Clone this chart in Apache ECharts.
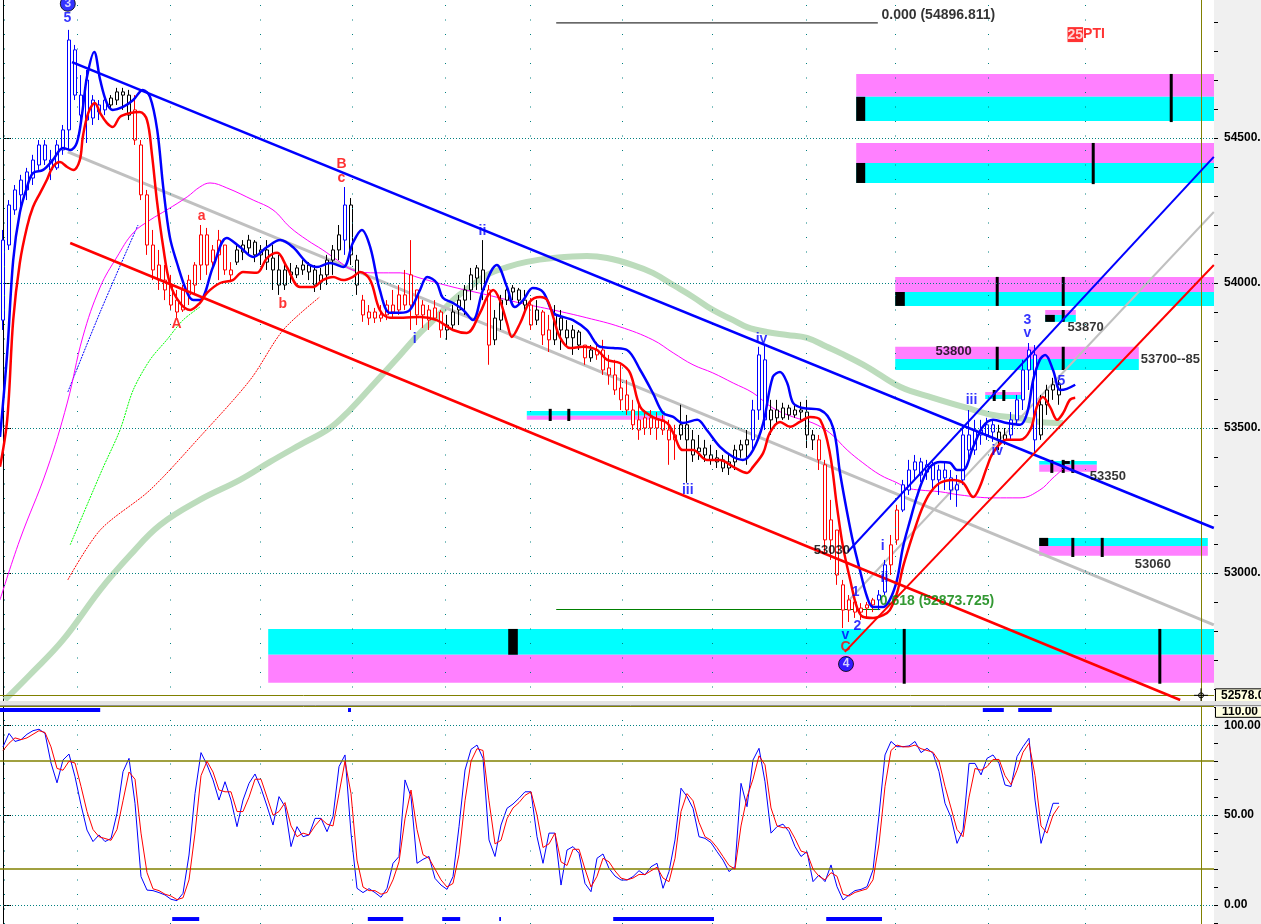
<!DOCTYPE html>
<html><head><meta charset="utf-8">
<script src="https://cdn.jsdelivr.net/npm/echarts@6/dist/echarts.min.js"></script>
<style>html,body{margin:0;padding:0;background:#f0f0f0}#c{width:1261px;height:924px}</style>
</head><body><div id="c"></div><script>
// ---------- price bars (bar index = position in arrays) ----------
const opens = [53872,54131,54252,54304,54321,54362,54407,54476,54424,54397,54459,54528,54804,54648,54562,54569,54614,54597,54614,54631,54659,54648,54597,54476,54304,54131,54062,54010,53993,53941,53907,53959,53993,54062,54166,54072,54097,54131,54045,54072,54107,54121,54141,54097,54114,54086,54045,53993,54038,54028,54045,54062,54045,54003,54028,54079,54114,54148,54269,54079,53941,53900,53879,53890,53890,53924,53907,53959,53924,53976,53890,53907,53879,53900,53838,53855,53907,53941,53976,54017,54045,53976,53804,53872,53941,53969,53976,53941,53924,53872,53900,53838,53804,53879,53838,53811,53831,53786,53742,53769,53769,53707,53683,53638,53614,53562,53528,53500,53535,53500,53528,53493,53459,53476,53511,53459,53418,53431,53407,53397,53390,53362,53383,53424,53442,53459,53562,53735,53528,53562,53535,53569,53545,53562,53555,53476,53459,53373,53114,53148,52959,52872,52900,52865,52879,52890,52907,52934,53028,53114,53217,53286,53355,53383,53348,53373,53321,53355,53328,53286,53321,53476,53424,53493,53476,53511,53486,53459,53476,53528,53597,53700,53752,53476,53580,53631,53649];
const closes = [54148,54269,54321,54355,54383,54424,54476,54424,54390,54476,54528,54838,54648,54579,54700,54631,54590,54631,54638,54659,54648,54579,54493,54304,54131,54045,54010,53976,53924,53900,53976,54010,54062,54166,54062,54114,54148,54045,54028,54114,54131,54148,54097,54114,54072,54045,53993,54045,54028,54052,54062,54038,53993,54028,54079,54114,54166,54269,54097,53993,53890,53879,53900,53879,53924,53900,53959,53924,54028,53890,53924,53872,53914,53838,53855,53900,53941,53976,54028,54052,53976,53786,53879,53941,53976,53983,53941,53924,53855,53907,53821,53804,53890,53838,53811,53838,53786,53742,53769,53752,53700,53683,53631,53597,53562,53511,53493,53535,53500,53528,53493,53459,53476,53511,53459,53407,53431,53407,53390,53383,53362,53383,53424,53442,53459,53562,53752,53528,53562,53535,53569,53545,53562,53555,53476,53459,53390,53114,53183,52993,52872,52907,52865,52879,52890,52907,52924,53028,53097,53217,53304,53355,53383,53338,53373,53321,53355,53328,53286,53304,53476,53424,53493,53476,53511,53486,53459,53476,53528,53597,53700,53769,53459,53580,53631,53649,53614];
const lows = [53838,54114,54235,54252,54286,54338,54390,54407,54355,54390,54442,54459,54631,54545,54483,54545,54562,54579,54597,54614,54597,54562,54476,54286,54097,54010,53976,53941,53907,53879,53900,53924,53959,54010,54028,54052,54010,54028,54003,54062,54079,54097,54072,54062,54045,53976,53959,53976,54000,54017,54028,54010,53969,53976,53993,54028,54079,54097,54062,53959,53866,53855,53862,53866,53872,53879,53890,53907,53838,53855,53845,53838,53872,53811,53804,53838,53855,53890,53941,53976,53941,53718,53786,53838,53924,53941,53924,53907,53838,53855,53786,53762,53786,53769,53786,53752,53769,53718,53728,53735,53683,53649,53614,53562,53545,53493,53459,53476,53476,53459,53476,53373,53390,53459,53311,53383,53390,53383,53373,53362,53348,53338,53355,53397,53373,53424,53528,53493,53476,53511,53528,53528,53535,53528,53431,53424,53355,53062,53045,52959,52810,52831,52845,52838,52848,52865,52872,52924,52993,53097,53210,53269,53321,53314,53321,53286,53269,53286,53252,53228,53304,53390,53407,53442,53459,53452,53424,53442,53459,53511,53562,53631,53407,53459,53545,53597,53580];
const highs = [54183,54286,54338,54373,54397,54442,54493,54493,54459,54493,54545,54873,54821,54717,54735,54648,54631,54648,54648,54673,54673,54666,54648,54493,54321,54183,54114,54062,54028,53976,53993,54028,54072,54200,54190,54131,54183,54131,54072,54131,54148,54166,54148,54131,54148,54131,54097,54072,54069,54062,54079,54072,54062,54052,54097,54131,54200,54331,54293,54097,53959,53924,53914,53924,53941,53976,53993,54045,54148,53976,53941,53924,53941,53907,53890,53924,53959,53993,54052,54062,54148,53993,53907,53959,54000,53993,53983,53976,53948,53941,53907,53890,53924,53907,53872,53855,53838,53786,53786,53797,53804,53752,53735,53718,53666,53597,53580,53562,53562,53555,53545,53528,53511,53580,53545,53493,53476,53459,53442,53424,53407,53407,53442,53459,53493,53597,53780,53786,53597,53597,53587,53580,53580,53590,53597,53493,53476,53390,53252,53148,52976,52924,52907,52896,52900,52914,52941,53045,53131,53235,53321,53390,53407,53397,53390,53383,53373,53383,53355,53338,53511,53562,53528,53528,53535,53528,53511,53500,53555,53614,53735,53793,53786,53614,53649,53673,53666];
// trend state of each bar: 1 = up (blue), -1 = down (red), 0 = neutral (black)
const trend = [1,1,1,1,1,1,1,1,1,1,1,1,1,1,1,1,1,1,0,0,0,0,-1,-1,-1,-1,-1,-1,-1,-1,-1,-1,-1,-1,-1,-1,-1,-1,-1,0,0,0,0,0,0,0,0,0,0,0,0,0,0,0,0,0,0,1,0,0,-1,-1,-1,-1,-1,-1,-1,-1,-1,-1,-1,-1,-1,-1,0,0,0,0,0,0,0,-1,0,0,0,0,0,0,-1,0,-1,-1,0,0,0,0,0,-1,0,-1,-1,-1,-1,-1,-1,-1,-1,-1,-1,-1,-1,-1,-1,0,0,0,0,0,0,0,0,0,0,0,0,1,1,1,0,0,0,0,0,0,0,0,-1,-1,-1,-1,-1,-1,-1,-1,-1,-1,1,1,-1,-1,1,1,1,1,1,1,1,1,1,1,1,1,1,1,1,1,0,0,1,1,1,1,1,0,0,0,0];

// ---------- indicator lines, [bar, price] ----------
const blueMA = [[-0.5,53469],[0.7,53759],[1.7,54079],[2.8,54242],[4,54331],[5,54379],[6.7,54390],[8.3,54424],[10,54466],[11.2,54459],[12.3,54483],[13.2,54586],[14,54711],[15.2,54797],[16.2,54700],[17.3,54621],[18.3,54597],[20,54607],[21.7,54631],[23.3,54666],[24.5,54642],[25.7,54528],[26.7,54331],[27.8,54159],[29,54069],[30.7,53966],[31.7,53941],[32.8,53941],[35,54055],[37.3,54155],[39.5,54124],[41.7,54090],[44,54124],[46.2,54148],[48.3,54124],[50.7,54069],[52.3,54055],[54.5,54069],[56.7,54055],[58.3,54138],[59.8,54183],[61.2,54124],[62.8,53976],[64.5,53897],[66.2,53897],[67.8,53907],[69.5,53976],[70.7,54021],[72.3,54000],[73.3,53949],[75,53931],[76.7,53907],[78.3,53872],[80,53976],[82.3,54062],[84,53986],[85.3,53917],[86.7,53941],[88.3,53983],[90,53969],[91.7,53897],[93.3,53883],[95,53872],[97.3,53838],[99.5,53780],[101.7,53776],[104,53769],[106.2,53700],[108.3,53621],[110,53552],[111.7,53538],[113.3,53517],[115.7,53528],[117.3,53493],[119.5,53435],[121.7,53400],[123.3,53390],[125,53424],[126.7,53517],[128.3,53676],[129.5,53693],[130.7,53655],[131.7,53586],[133.3,53569],[136.2,53562],[138.3,53504],[139.5,53345],[140.7,53207],[141.7,53104],[142.8,53011],[144,52918],[145,52883],[146.7,52883],[147.8,52907],[149,52976],[150,53090],[151.2,53183],[152.3,53262],[153.3,53321],[154.5,53366],[156.2,53383],[157.8,53380],[159,53355],[160,53355],[161.7,53435],[163.3,53504],[165,53528],[167.3,53517],[169.5,53511],[170.7,53552],[171.7,53666],[172.8,53735],[173.7,53752],[175,53700],[176.2,53631],[177.3,53635],[178.7,53649]];
const redMA = [[-0.5,53366],[0.7,53528],[1.7,53872],[2.8,54069],[4,54193],[5,54262],[6.2,54311],[7.3,54355],[8.3,54400],[9.5,54417],[10.7,54400],[11.7,54390],[12.8,54424],[13.3,54504],[14.2,54586],[15.3,54621],[16.2,54586],[17.3,54552],[18.3,54538],[19.5,54573],[21.2,54586],[22.8,54590],[24,54562],[24.8,54448],[25.7,54276],[26.7,54124],[27.8,54000],[29.5,53931],[31.2,53907],[32.8,53931],[34,53966],[36.2,54000],[38.3,54010],[40,54038],[42.3,54035],[44,54086],[45.7,54104],[47.3,54055],[49.5,53986],[51.7,53986],[53.3,54010],[55,54021],[56.7,54010],[58.3,54021],[59.5,54038],[61.2,54010],[62.8,53907],[64.5,53880],[66.7,53880],[69.5,53883],[72.3,53872],[75,53838],[77.3,53828],[79.5,53897],[80.7,53952],[81.7,53976],[82.8,53941],[84,53862],[84.8,53814],[86.2,53862],[87.8,53935],[89.5,53952],[90.7,53941],[91.7,53883],[92.8,53814],[94.5,53776],[96.7,53780],[99,53769],[100.7,53735],[102.8,53724],[104.5,53690],[106.2,53573],[108.3,53538],[110.7,53517],[111.7,53483],[113.3,53424],[115,53424],[117.3,53390],[119.5,53390],[121.7,53366],[124,53345],[125,53366],[126.7,53414],[127.8,53483],[129.5,53521],[131.2,53504],[132.8,53521],[134.5,53538],[136.2,53528],[137.8,53414],[139,53228],[140,53090],[141.2,52976],[142.3,52883],[143.3,52849],[145,52845],[146.7,52855],[147.8,52872],[149,52931],[150,53021],[151.2,53104],[152.3,53173],[153.3,53228],[154.5,53276],[156.2,53311],[158.3,53321],[160,53311],[161.7,53262],[162.8,53297],[164,53366],[165,53414],[167.3,53459],[169.5,53459],[171.2,53493],[172.3,53573],[173.3,53607],[174.5,53573],[175.7,53528],[176.7,53552],[177.8,53597],[178.7,53604]];
const magentaMA = [[-0.5,52907],[2.8,53114],[7.3,53355],[10.7,53586],[13.3,53814],[16.2,53986],[19,54090],[21.7,54173],[24.5,54217],[27.3,54252],[30.7,54297],[32.8,54331],[34.5,54345],[37.3,54328],[41.7,54286],[45,54252],[47.8,54193],[50.7,54148],[53.3,54114],[55.7,54079],[58.3,54045],[62.3,54035],[66.2,54035],[69.5,54017],[75,53986],[80.7,53959],[86.2,53931],[91.7,53907],[97.3,53880],[102.8,53849],[108.3,53804],[111.7,53759],[115,53718],[118.3,53690],[121.7,53655],[125,53621],[128.3,53569],[131.7,53538],[135,53517],[137.8,53483],[140.7,53424],[143.3,53380],[146.2,53338],[149,53311],[150.7,53293],[152.8,53286],[156.2,53280],[159.5,53269],[165,53259],[169.5,53259],[172.8,53286],[175,53328],[176.7,53359]];
const greenMA = [[0.3,52562],[4.5,52649],[10,52769],[16.2,52942],[21.2,53062],[26.2,53166],[32.8,53252],[39.5,53321],[44.5,53383],[49.5,53442],[54.5,53500],[57.8,53562],[61.2,53638],[66.2,53752],[69.5,53828],[72.3,53883],[75,53941],[77.8,53986],[80.7,54028],[84,54055],[87.3,54073],[91.7,54086],[97.3,54093],[100.7,54086],[105,54062],[108.3,54035],[111.7,53993],[115,53952],[118.3,53907],[121.7,53872],[124,53848],[127.3,53831],[130.7,53821],[134,53811],[137.3,53780],[139.5,53759],[144,53711],[149.5,53642],[155,53604],[160.7,53569],[165,53545],[169,53535],[172.8,53521],[176.7,53517]];
const thinBlue = [[10.8,53624],[16.2,53900],[22.5,54200]];
const thinGreen = [[11.2,53097],[16.5,53355],[19.5,53493],[21.7,53631],[24.5,53735],[27.3,53804],[30,53872],[32.8,53917]];
const thinRed = [[10.8,52976],[16.2,53148],[24.5,53286],[32.8,53469],[41.2,53666],[46.7,53838],[52.8,53952]];

// ---------- trend lines (two points each) ----------
const blueChannel = [[11.5,54762],[201.8,53155]];
const grayChannel = [[10.8,54452],[201.8,52821]];
const redChannel  = [[11.2,54138],[196.2,52562]];
const blueUp = [[140.8,53073],[201.8,54435]];
const grayUp = [[140.7,52900],[201.8,54245]];
const redUp  = [[140.3,52728],[201.8,54062]];
const fibTop = [[92.2,54897],[145.8,54897]];
const fibLow = [[92.2,52874],[146.2,52874]];

// ---------- time/price zones: [fromBar, toBar, top, middle, bottom, kind] kind 0 = resistance, 1 = support ----------
const boxes = [
 [142.2,201.9,54721,54642,54559,0],[142.2,201.9,54483,54414,54345,0],[148.7,201.9,54021,53969,53921,0],
 [173.7,178.8,53907,53890,53866,0],[148.7,189.3,53780,53738,53700,0],[163.7,169.8,53624,53614,53600,0],
 [172.7,182.3,53386,53373,53349,1],[172.7,200.8,53121,53093,53059,1],[87.3,110.3,53559,53542,53528,1],
 [44.2,201.9,52807,52718,52621,1]];
const boxMarks = [[142.2,143.7,54642,54559],[142.2,143.7,54414,54345],[148.7,150.3,53969,53921],[173.7,175.3,53890,53866],[172.7,174.2,53121,53093],[84.2,85.8,52807,52718],[176.7,177.8,53386,53376]];
const boxTicks = [[194.7,54721,54555],[181.7,54483,54341],[165.7,54021,53921],[176.7,54021,53921],[176.7,53907,53866],[165.7,53780,53700],[176.7,53780,53700],[165.2,53631,53593],[166.8,53631,53593],[174.8,53390,53345],[176.7,53390,53345],[178.3,53390,53345],[178.3,53121,53055],[183.2,53121,53055],[91.2,53566,53524],[94.3,53566,53524],[150.2,52807,52618],[192.8,52807,52618]];

// ---------- labels: [text, bar, price, kind] ----------
const labels = [
 ['3',10.8,54963,'O'],['5',10.8,54910,'B'],['a',33.2,54228,'R'],['A',29.0,53855,'R'],['b',46.7,53924,'R'],
 ['B',56.5,54407,'R'],['c',56.5,54359,'R'],['i',68.7,53804,'B'],['ii',80.0,54176,'B'],['iii',114.2,53283,'B'],
 ['iv',126.5,53804,'B'],['53030',135.2,53076,'K'],['1',142.2,52931,'B'],['2',142.5,52814,'B'],['v',140.5,52783,'B'],
 ['C',140.5,52742,'R'],['4',140.5,52686,'O'],['i',146.7,53090,'B'],['ii',147.0,52980,'B'],['iii',161.5,53593,'B'],
 ['iv',165.8,53417,'B'],['3',170.8,53869,'B'],['v',170.8,53824,'B'],['5',176.5,53659,'B'],
 ['53870',177.5,53845,'K'],['53800',155.5,53762,'K'],['53700--85',189.7,53735,'K'],['53350',181.2,53331,'K'],
 ['53060',188.7,53028,'K'],['0.000 (54896.811)',146.5,54921,'F'],['0.618 (52873.725)',146.2,52900,'G'],['25PTI',177.5,54855,'P']];

// ---------- stochastic ----------
const stochK = [88,95.5,91,92,95,97,97.8,95.5,79,68,80.7,84,71.4,55.7,41.7,35.3,39,35.3,37,51,74.2,81.6,56.6,15.8,8.3,8,6.9,5.6,3.2,2.4,6.5,27.8,62,84.8,78,69.6,58.4,68.6,58.4,43.6,58.4,67.7,72.9,65,55,44.5,60.3,54.7,32.5,43.6,38,39,48.2,48.2,40.8,49.2,77,83.5,40,9.3,6.9,9.1,6.9,4.3,9.3,23.2,27,69.6,60.3,23.2,25.4,27,14.8,11.1,8.7,15.8,43.6,75.1,86.6,89,81.6,36.2,27,44.5,53.8,56.2,59.4,63,63,38,23.2,40,40,11.1,30.6,32.5,28.8,12,7.4,26,28.4,20.4,16.1,13.9,13.9,15.8,19.1,16.7,21.3,23.2,9.3,18.6,36.2,65,60.3,53.8,38,37.1,34.7,29.7,25,18.6,21.3,67.7,54.7,80.7,87.2,68.6,40,43.6,45,40.8,32.5,27,29.7,13,16.7,13,22.3,10.2,2.8,5.6,8,8.7,10.2,19.5,50,83.5,91,88.1,88.1,88.5,91,84.8,87.2,84.4,74.2,56.6,48.8,34.3,41.7,78.8,78.8,72.4,81.6,83.5,78.8,66.8,65.9,82.6,88.1,92.8,58.4,34.3,45.5,56.6,56.6];
const stochD = [86,90,93,92,93,95,97,96,88,76,75,80,79,66,52,42,38,37,36,42,58,74,70,40,18,9,8,6,5,3,4,14,40,72,80,74,64,63,63,52,52,60,70,70,60,50,52,57,44,38,40,39,44,48,45,44,62,80,62,25,10,8,8,6,7,14,24,48,64,42,28,26,20,14,10,12,28,58,80,87,86,58,34,36,48,54,57,61,63,50,32,34,40,24,22,31,31,20,10,16,26,24,19,15,14,15,17,17,19,21,15,13,26,52,62,58,46,38,36,32,27,22,20,44,60,70,83,78,54,44,43,43,37,30,29,20,16,14,18,16,6,5,7,8,9,14,34,66,86,89,88,88,89,87,86,85,80,66,54,42,38,60,76,75,77,81,81,72,67,75,85,90,72,44,40,50,55];
const overboughtZones = [[-0.5,16.2],[57.5,58.0],[163.3,166.8],[169.2,174.8]];
const oversoldZones = [[28.2,32.7],[60.8,66.7],[73.2,76.2],[82.7,83.0],[101.7,118.5],[137.2,146.5]];

// ---------- axes / grid ticks ----------
const priceLabels = [53000,53500,54000,54500];
const priceMinor = [52600,52700,52800,52900,53000,53100,53200,53300,53400,53500,53600,53700,53800,53900,54000,54100,54200,54300,54400,54500,54600,54700,54800,54900];
const stochLabels = [0,50,100];
const stochMinor = [-10,0,10,20,30,40,50,60,70,80,90,100,110];
const stochLevels = [20,80];
const gridCols = [0.2,12.3,27.8,42.8,58.2,73.7,87.8,103.2,118.2,133.8,148.7,164.2,180.3];
const currentPrice = 52578;
const cursorBar = 199.67;

const X_MIN=-0.5, X_MAX=201.83, P_MIN=52555, P_MAX=54976, S_MIN=-10.57, S_MAX=110.18;
const BLUE='#0000ff', RED='#ff0000', BLACK='#000000', MAGENTA='#ff80ff', CYAN='#00ffff', TEAL='#008080', OLIVE='#808000';
const FONT='"Liberation Sans", Arial, sans-serif';
const NARROW='"Liberation Sans Narrow", "Liberation Sans", Arial, sans-serif';
const trendColor = {'1':BLUE,'-1':RED,'0':BLACK};

const chart = echarts.init(document.getElementById('c'));

function clipTo(params, s){
  const c = params.coordSys;
  return echarts.graphic.clipRectByRect(s,{x:c.x,y:c.y,width:c.width,height:c.height});
}
function band(api,x1,x2,p1,p2){
  const a=api.coord([x1,p1]), b=api.coord([x2,p2]);
  return {x:Math.min(a[0],b[0]),y:Math.min(a[1],b[1]),width:Math.abs(b[0]-a[0]),height:Math.abs(b[1]-a[1])};
}

const candleData = opens.map((o,i)=>{
  const c = trendColor[String(trend[i])];
  return {value:[i,o,closes[i],lows[i],highs[i]], itemStyle:{color:'#ffffff',color0:c,borderColor:c,borderColor0:c,borderWidth:1}};
});

function lineSeries(data, color, width, z, extra){
  return Object.assign({type:'line', xAxisIndex:0, yAxisIndex:0, data, showSymbol:false, symbol:'none', z, silent:true,
    lineStyle:{color, width}}, extra||{});
}

const labelData = labels.map(([t,x,p,k])=>{
  const base = {value:[x,p], symbolSize:1, itemStyle:{color:'rgba(0,0,0,0)'}};
  if(k==='O'){
    return {value:[x,p], symbol:'circle', symbolSize:15, itemStyle:{color:BLUE,borderColor:BLACK,borderWidth:1},
      label:{show:true,position:'inside',formatter:t,color:'#fff',fontFamily:FONT,fontWeight:'bold',fontSize:12}};
  }
  const st = {
    B:{color:BLUE,fontSize:14,align:'center',fontFamily:FONT},
    R:{color:RED,fontSize:14,align:'center',fontFamily:FONT},
    K:{color:BLACK,fontSize:13,align:'left',fontFamily:FONT},
    F:{color:BLACK,fontSize:14,align:'left',fontFamily:NARROW},
    G:{color:'#008000',fontSize:14,align:'left',fontFamily:NARROW},
    P:{color:RED,fontSize:14,align:'left',fontFamily:FONT}
  }[k];
  const lab = Object.assign({show:true,position:[0,0],verticalAlign:'middle',fontWeight:'bold',formatter:t}, st);
  if(k==='P'){
    lab.formatter='{a|25}{b|PTI}';
    lab.rich={a:{color:'#fff',backgroundColor:RED,fontSize:14,fontWeight:'bold',fontFamily:FONT,padding:[1,0,0,0]},
              b:{color:RED,fontSize:14,fontWeight:'bold',fontFamily:FONT}};
  }
  base.label = lab;
  return base;
});

const option = {
  backgroundColor:'#f0f0f0',
  animation:false,
  grid:[
    {left:0,top:0,width:1214,height:702,show:true,backgroundColor:'#ffffff',borderWidth:0,containLabel:false,outerBoundsMode:'none'},
    {left:0,top:707,width:1214,height:217,show:true,backgroundColor:'#ffffff',borderWidth:0,containLabel:false,outerBoundsMode:'none'}
  ],
  xAxis:[
    {type:'value',gridIndex:0,min:X_MIN,max:X_MAX,show:false},
    {type:'value',gridIndex:1,min:X_MIN,max:X_MAX,show:false}
  ],
  yAxis:[
    {type:'value',gridIndex:0,position:'right',min:P_MIN,max:P_MAX,splitLine:{show:false},
     axisLine:{show:true,lineStyle:{color:BLACK,width:1}},
     axisTick:{show:true,customValues:priceLabels,length:8,lineStyle:{color:BLACK}},
     axisLabel:{show:true,customValues:priceLabels,margin:10,formatter:v=>Number(v).toFixed(2),color:BLACK,fontFamily:FONT,fontWeight:'bold',fontSize:12}},
    {type:'value',gridIndex:0,position:'right',min:P_MIN,max:P_MAX,splitLine:{show:false},axisLine:{show:false},
     axisTick:{show:true,customValues:priceMinor,length:4,lineStyle:{color:BLACK}},axisLabel:{show:false}},
    {type:'value',gridIndex:1,position:'right',min:S_MIN,max:S_MAX,splitLine:{show:false},
     axisLine:{show:true,lineStyle:{color:BLACK,width:1}},
     axisTick:{show:true,customValues:stochLabels,length:8,lineStyle:{color:BLACK}},
     axisLabel:{show:true,customValues:stochLabels,margin:10,formatter:v=>Number(v).toFixed(2),color:BLACK,fontFamily:FONT,fontWeight:'bold',fontSize:12}},
    {type:'value',gridIndex:1,position:'right',min:S_MIN,max:S_MAX,splitLine:{show:false},axisLine:{show:false},
     axisTick:{show:true,customValues:stochMinor,length:4,lineStyle:{color:BLACK}},axisLabel:{show:false}}
  ],
  series:[
    // grid lines main
    {type:'line',xAxisIndex:0,yAxisIndex:0,data:[],z:0,silent:true,
     markLine:{silent:true,symbol:'none',animation:false,label:{show:false},lineStyle:{color:TEAL,width:1,type:[1,2]},
       data:priceLabels.map(v=>({yAxis:v}))}},
    {type:'line',xAxisIndex:0,yAxisIndex:0,data:[],z:0,silent:true,
     markLine:{silent:true,symbol:'none',animation:false,label:{show:false},lineStyle:{color:TEAL,width:1,type:[1,13.5]},
       data:gridCols.map(v=>({xAxis:v}))}},
    // grid lines stochastic
    {type:'line',xAxisIndex:1,yAxisIndex:2,data:[],z:0,silent:true,
     markLine:{silent:true,symbol:'none',animation:false,label:{show:false},lineStyle:{color:TEAL,width:1,type:[1,2]},
       data:stochLabels.map(v=>({yAxis:v}))}},
    {type:'line',xAxisIndex:1,yAxisIndex:2,data:[],z:0,silent:true,
     markLine:{silent:true,symbol:'none',animation:false,label:{show:false},lineStyle:{color:OLIVE,width:1.5,type:'solid'},
       data:stochLevels.map(v=>({yAxis:v}))}},
    {type:'line',xAxisIndex:1,yAxisIndex:2,data:[],z:0,silent:true,
     markLine:{silent:true,symbol:'none',animation:false,label:{show:false},lineStyle:{color:TEAL,width:1,type:[1,13.5]},
       data:gridCols.map(v=>({xAxis:v}))}},
    // zones
    {type:'custom',xAxisIndex:0,yAxisIndex:0,z:1,silent:true,data:boxes,
     renderItem(params,api){
       const x1=api.value(0),x2=api.value(1),t=api.value(2),m=api.value(3),b=api.value(4),k=api.value(5);
       const c1=k===0?MAGENTA:CYAN, c2=k===0?CYAN:MAGENTA;
       const r1=clipTo(params,band(api,x1,x2,t,m)), r2=clipTo(params,band(api,x1,x2,m,b));
       const ch=[];
       if(r1) ch.push({type:'rect',shape:r1,style:{fill:c1}});
       if(r2) ch.push({type:'rect',shape:r2,style:{fill:c2}});
       return {type:'group',children:ch};
     }},
    {type:'custom',xAxisIndex:0,yAxisIndex:0,z:2,silent:true,data:boxMarks,
     renderItem(params,api){
       const r=clipTo(params,band(api,api.value(0),api.value(1),api.value(2),api.value(3)));
       return r?{type:'rect',shape:r,style:{fill:BLACK}}:null;
     }},
    {type:'custom',xAxisIndex:0,yAxisIndex:0,z:2,silent:true,data:boxTicks,
     renderItem(params,api){
       const a=api.coord([api.value(0),api.value(1)]), b=api.coord([api.value(0),api.value(2)]);
       return {type:'rect',shape:{x:a[0]-1.5,y:a[1],width:3,height:b[1]-a[1]},style:{fill:BLACK}};
     }},
    // long MA
    lineSeries(greenMA,'#bcdcbc',6,2,{smooth:0.4}),
    // fib lines
    lineSeries(fibTop,BLACK,1,2),
    lineSeries(fibLow,'#008000',1,2),
    // channels
    lineSeries(grayChannel,'#c0c0c0',3,2),
    lineSeries(grayUp,'#c0c0c0',2,2),
    // thin early lines
    lineSeries(thinBlue,BLUE,1,2,{smooth:0.3,lineStyle:{color:BLUE,width:1,type:[2,1]}}),
    lineSeries(thinGreen,'#00ff00',1,2,{smooth:0.3,lineStyle:{color:'#00ff00',width:1,type:[2,1]}}),
    lineSeries(thinRed,RED,1,2,{smooth:0.3,lineStyle:{color:RED,width:1,type:[2,1]}}),
    lineSeries(magentaMA,'#ff00ff',1,3,{smooth:0.4}),
    // candles
    {type:'candlestick',xAxisIndex:0,yAxisIndex:0,z:4,barWidth:4,silent:true,encode:{x:0,y:[1,2,3,4]},data:candleData},
    // fast MAs
    lineSeries(blueMA,BLUE,2.5,5,{smooth:0.35}),
    lineSeries(redMA,RED,2.5,5,{smooth:0.35}),
    // trend lines
    lineSeries(blueChannel,BLUE,2.5,5),
    lineSeries(redChannel,RED,2.5,5),
    lineSeries(blueUp,BLUE,2,5),
    lineSeries(redUp,RED,2,5),
    // cursor
    {type:'line',xAxisIndex:0,yAxisIndex:0,data:[],z:6,silent:true,
     markLine:{silent:true,symbol:'none',animation:false,label:{show:false},lineStyle:{color:OLIVE,width:1,type:'solid'},
       data:[{yAxis:currentPrice},{xAxis:cursorBar}]}},
    {type:'line',xAxisIndex:1,yAxisIndex:2,data:[],z:6,silent:true,
     markLine:{silent:true,symbol:'none',animation:false,label:{show:false},lineStyle:{color:OLIVE,width:1,type:'solid'},
       data:[{xAxis:cursorBar}]}},
    // labels
    {type:'scatter',xAxisIndex:0,yAxisIndex:0,z:8,silent:true,data:labelData},
    // stochastic
    {type:'custom',xAxisIndex:1,yAxisIndex:2,z:2,silent:true,data:overboughtZones,
     renderItem(params,api){
       const r=clipTo(params,band(api,api.value(0),api.value(1),109.6,107.4));
       return r?{type:'rect',shape:r,style:{fill:BLUE}}:null;
     }},
    {type:'custom',xAxisIndex:1,yAxisIndex:2,z:2,silent:true,data:oversoldZones,
     renderItem(params,api){
       const r=clipTo(params,band(api,api.value(0),api.value(1),-6.7,-8.9));
       return r?{type:'rect',shape:r,style:{fill:BLUE}}:null;
     }},
    {type:'line',xAxisIndex:1,yAxisIndex:2,data:stochK.map((v,i)=>[i,v]),showSymbol:false,symbol:'none',z:4,silent:true,lineStyle:{color:BLUE,width:1}},
    {type:'line',xAxisIndex:1,yAxisIndex:2,data:stochD.map((v,i)=>[i,v]),showSymbol:false,symbol:'none',z:5,silent:true,lineStyle:{color:RED,width:1}}
  ]
};
chart.setOption(option);

const yCur = chart.convertToPixel({yAxisIndex:0}, currentPrice);
const xCur = chart.convertToPixel({xAxisIndex:0}, cursorBar);
const yTop2 = chart.convertToPixel({yAxisIndex:2}, 110);
chart.setOption({graphic:[
  {type:'rect',shape:{x:1215.5,y:yTop2-2,width:50,height:12},style:{fill:'#ffffe1',stroke:BLACK,lineWidth:1},z:10},
  {type:'text',x:1222,y:yTop2+4,style:{text:'110.00',font:'bold 12px '+FONT,fill:BLACK,verticalAlign:'middle'},z:11},
  {type:'rect',shape:{x:0,y:701,width:1261,height:6},style:{fill:'#e4e4e4'},z:12},
  {type:'line',shape:{x1:0,y1:705.5,x2:1261,y2:705.5},style:{stroke:'#909090',lineWidth:1},z:12},
  {type:'line',shape:{x1:0,y1:706.5,x2:1214,y2:706.5},style:{stroke:OLIVE,lineWidth:1},z:12},
  {type:'rect',shape:{x:1215.5,y:yCur-6.5,width:50,height:13},style:{fill:'#ffffe1',stroke:BLACK,lineWidth:1},z:10},
  {type:'text',x:1221,y:yCur,style:{text:currentPrice.toFixed(2),font:'bold 12px '+FONT,fill:BLACK,verticalAlign:'middle'},z:11},
  {type:'circle',shape:{cx:xCur,cy:yCur,r:2.5},style:{fill:'none',stroke:BLACK,lineWidth:1},z:11},
  {type:'line',shape:{x1:xCur-7,y1:yCur,x2:xCur+7,y2:yCur},style:{stroke:BLACK,lineWidth:1},z:11},
  {type:'line',shape:{x1:xCur,y1:yCur-7,x2:xCur,y2:yCur+7},style:{stroke:BLACK,lineWidth:1},z:11}
]});
</script></body></html>
